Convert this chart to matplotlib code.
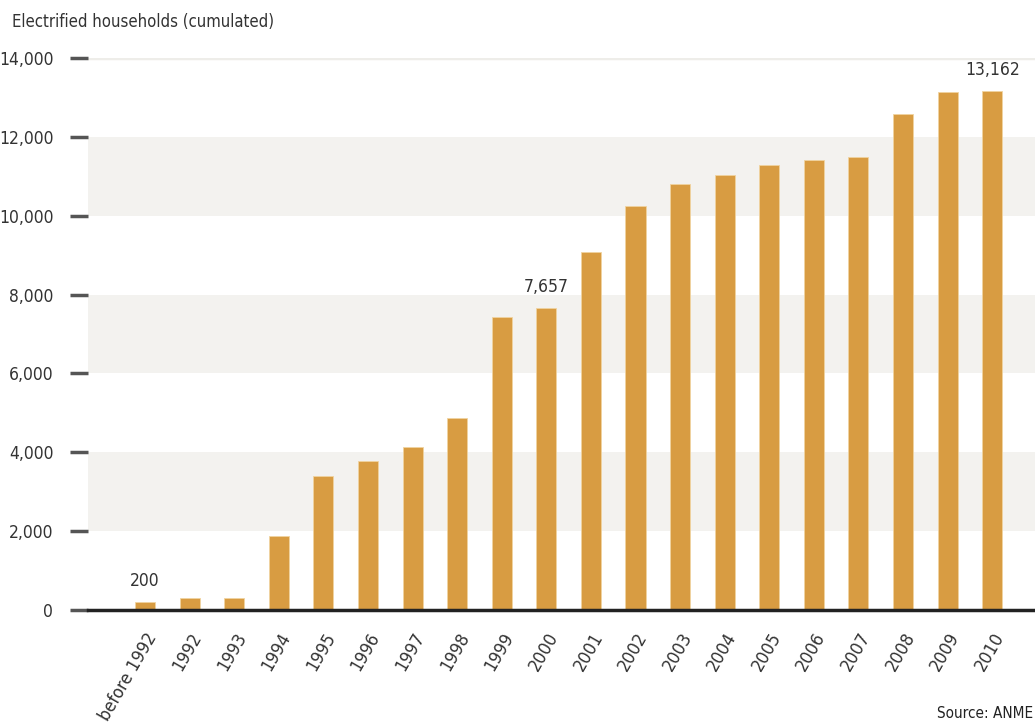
import matplotlib.pyplot as plt

plt.rcParams['font.family'] = ['DejaVu Sans']
plt.rcParams['font.stretch'] = 'condensed'

years = ['before 1992', '1992', '1993', '1994', '1995', '1996', '1997', '1998', '1999', '2000',
         '2001', '2002', '2003', '2004', '2005', '2006', '2007', '2008', '2009', '2010']
households = [200, 300, 300, 1880, 3400, 3780, 4130, 4870, 7430, 7657,
              9080, 10250, 10800, 11030, 11290, 11410, 11490, 12580, 13140, 13162]
labelled = {0: '200', 9: '7,657', 19: '13,162'}
yticks = [0, 2000, 4000, 6000, 8000, 10000, 12000, 14000]
bands = [(2000, 4000), (6000, 8000), (10000, 12000)]

bar_color = '#d89c42'
text_color = '#333333'

fig = plt.figure(figsize=(10.35, 7.26), dpi=100)
ax = fig.add_axes([88 / 1035, 116 / 726, 947 / 1035, 552 / 726])

# grey bands and the top line
for lo, hi in bands:
    ax.axhspan(lo, hi, color='#f3f2ef', lw=0, zorder=0)
ax.axhline(14000, color='#eeede9', lw=2.5, zorder=0)

x = list(range(len(years)))
ax.bar(x, households, width=0.45, color=bar_color, edgecolor='#f0d4a0', linewidth=0.6, zorder=2)

for i, txt in labelled.items():
    ax.text(i, households[i] + 300, txt, ha='center', va='bottom', fontsize=12.5, color=text_color)

ax.set_xlim(-1.28, 19.96)
ax.set_ylim(0, 14000)

ax.set_yticks(yticks)
ax.set_yticklabels([f'{v:,}' for v in yticks], fontsize=12.5, color=text_color)
ax.tick_params(axis='y', length=13, width=2.5, color='#555555', pad=12)

ax.set_xticks(x)
ax.set_xticklabels(years, rotation=60, ha='right', rotation_mode='anchor', fontsize=13, color=text_color)
ax.tick_params(axis='x', length=0, pad=14)

for side in ['top', 'right', 'left']:
    ax.spines[side].set_visible(False)
ax.spines['bottom'].set_color('#222222')
ax.spines['bottom'].set_linewidth(2.5)
ax.spines['bottom'].set_zorder(3)

fig.text(12 / 1035, 1 - 22 / 726, 'Electrified households (cumulated)', fontsize=12,
         color=text_color, va='center', ha='left')
fig.text(1033 / 1035, 1 - 714 / 726, 'Source: ANME', fontsize=11, color='#222222',
         va='center', ha='right')

fig.savefig('out.png', dpi=100)
